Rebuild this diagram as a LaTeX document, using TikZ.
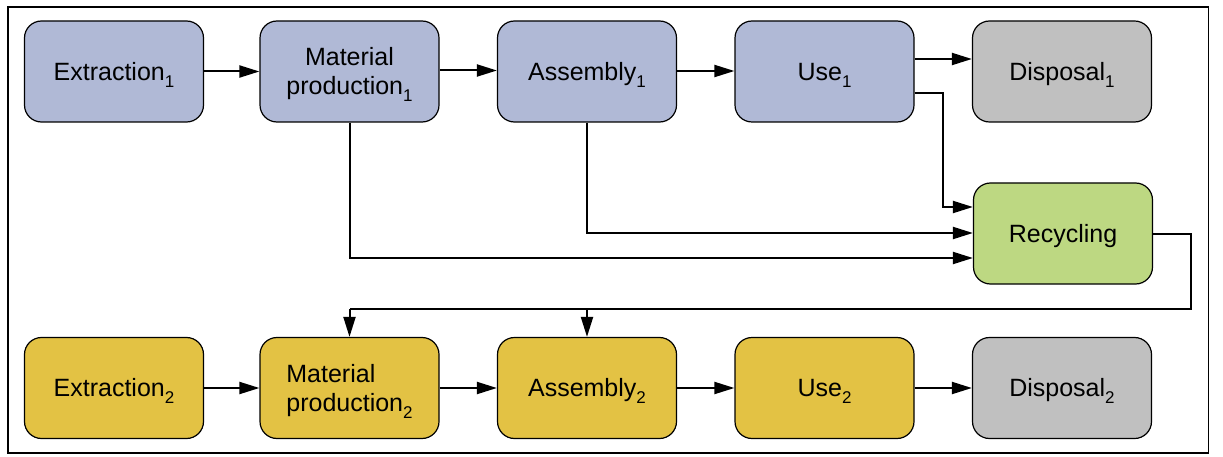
\documentclass[tikz,border=0pt]{standalone}
\usepackage{fontspec}
\setmainfont{Liberation Sans}
\usetikzlibrary{arrows.meta}
\newcommand{\sbs}[1]{\raisebox{-0.28em}[0pt][0pt]{\fontsize{17}{17}\selectfont #1}}
\definecolor{cblue}{RGB}{176,185,214}
\definecolor{cgreen}{RGB}{189,216,130}
\definecolor{cyellow}{RGB}{227,194,68}
\definecolor{cgray}{RGB}{192,192,192}
\tikzset{
  box/.style={draw=black, line width=1.2pt, rounded corners=17pt, minimum width=179pt, minimum height=101pt, inner sep=0pt, align=center, font=\fontsize{25}{29}\selectfont, text height=17.9pt, text depth=0pt},
  twoline/.style={text height=46.9pt, text depth=0pt},
  conn/.style={line width=2pt, -{Triangle[length=20pt,width=12pt]}},
  plain/.style={line width=2pt}
}
\begin{document}
\begin{tikzpicture}[x=1pt,y=-1pt]
\useasboundingbox (0,0) rectangle (1223,457);
\draw[line width=1.3pt] (8,7) rectangle (1208.5,453);
% row 1
\node[box, fill=cblue] (e1) at (114,71.5) {Extraction\sbs{1}};
\node[box, twoline, fill=cblue] (m1) at (349.5,71.5) {Material\\production\sbs{1}};
\node[box, fill=cblue] (a1) at (587,71.5) {Assembly\sbs{1}};
\node[box, fill=cblue] (u1) at (824.5,71.5) {Use\sbs{1}};
\node[box, fill=cgray] (d1) at (1062,71.5) {Disposal\sbs{1}};
% recycling
\node[box, fill=cgreen] (r) at (1063,233.5) {Recycling};
% row 2
\node[box, fill=cyellow] (e2) at (114,388) {Extraction\sbs{2}};
\node[box, twoline, fill=cyellow, align=left] (m2) at (349.5,388) {Material\\production\sbs{2}};
\node[box, fill=cyellow] (a2) at (587,388) {Assembly\sbs{2}};
\node[box, fill=cyellow] (u2) at (824.5,388) {Use\sbs{2}};
\node[box, fill=cgray] (d2) at (1062,388) {Disposal\sbs{2}};
% coordinates
\coordinate (loop) at (1191,309);
% row 1 arrows
\draw[conn] (e1.east |- 0,71.5) -- (m1.west |- 0,71.5);
\draw[conn] (m1.east |- 0,70.5) -- (a1.west |- 0,70.5);
\draw[conn] (a1.east |- 0,71) -- (u1.west |- 0,71);
\draw[conn] (u1.east |- 0,59) -- (d1.west |- 0,59);
\draw[conn] (u1.east |- 0,93) -| (943,207) -- (r.west |- 0,207);
\draw[conn] (a1.south) |- (r.west |- 0,233);
\draw[conn] (m1.south) |- (r.west |- 0,258);
% recycling loop
\draw[plain] (r.east) -| (loop) -- (m2.north |- loop);
\draw[conn] (m2.north |- loop) -- (m2.north);
\draw[conn] (a2.north |- loop) -- (a2.north);
% row 2 arrows
\draw[conn] (e2) -- (m2);
\draw[conn] (m2) -- (a2);
\draw[conn] (a2) -- (u2);
\draw[conn] (u2) -- (d2);
\end{tikzpicture}
\end{document}
